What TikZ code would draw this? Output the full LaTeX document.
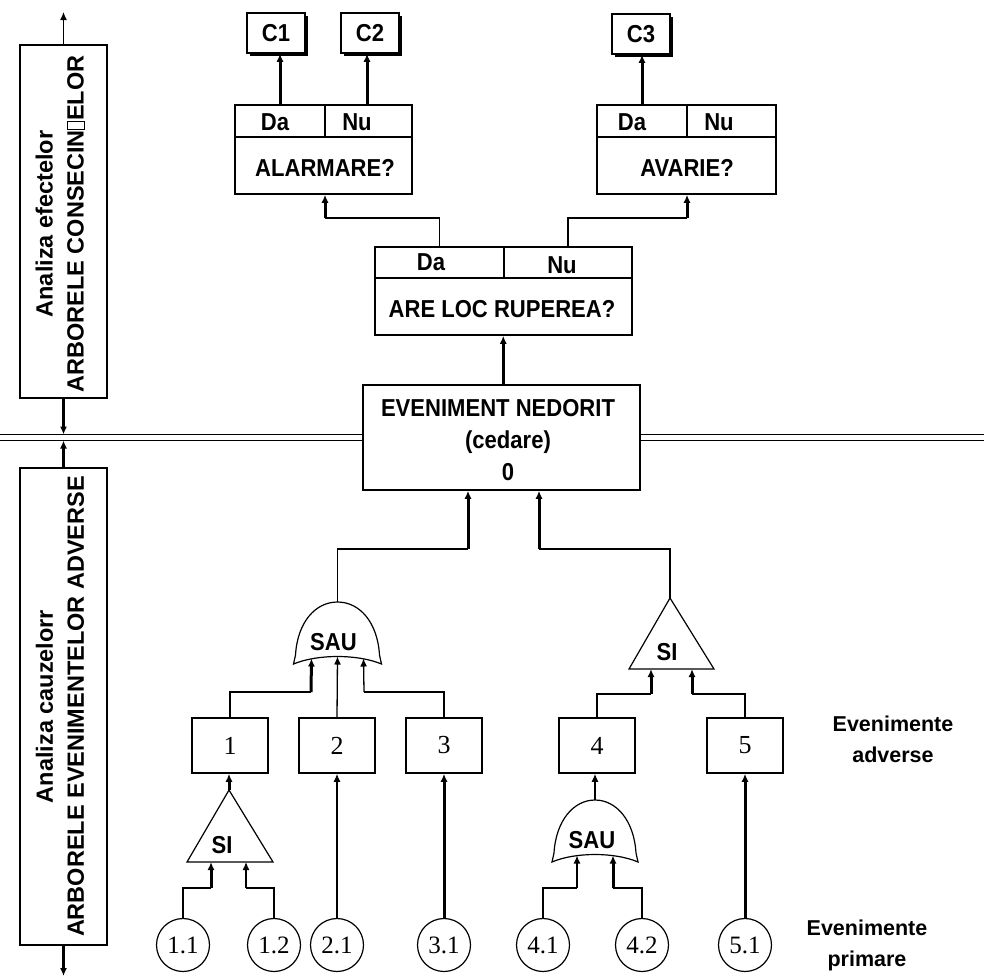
\documentclass[tikz,border=0pt]{standalone}
\usepackage{fontspec}
\setmainfont{Liberation Sans}
\newfontfamily\condfont{Liberation Sans}[FakeStretch=0.9]
\newfontfamily\numfont{Liberation Serif}
\usetikzlibrary{arrows.meta,shadows}
% empty glyph box printed in place of the missing letter
\newcommand\tofubox{{\setlength\fboxsep{0pt}\setlength\fboxrule{0.7pt}\fbox{\rule{0pt}{16pt}\hspace{8pt}}}}
\begin{document}
\begin{tikzpicture}[x=1pt,y=-1pt,
  txt/.style={font=\condfont\bfseries\fontsize{24.5}{28}\selectfont, inner sep=0pt},
  note/.style={font=\bfseries\fontsize{21.5}{31}\selectfont, inner sep=0pt, align=center},
  side/.style={font=\bfseries\fontsize{23.5}{31}\selectfont, inner sep=0pt, rotate=90, align=center},
  frame/.style={draw, line width=1.5pt, fill=white, inner sep=0pt},
  cons/.style={frame, minimum width=58pt, minimum height=40pt,
    font=\condfont\bfseries\fontsize{24.5}{28}\selectfont,
    drop shadow={shadow xshift=2.5pt, shadow yshift=-2.5pt, fill=black, opacity=1}},
  evbox/.style={frame, minimum width=76pt, minimum height=55pt, font=\numfont\fontsize{26}{26}\selectfont},
  prim/.style={draw, circle, line width=1.2pt, minimum size=53pt, inner sep=0pt, font=\numfont\fontsize{25}{25}\selectfont},
  gate/.style={draw, line width=1.2pt, fill=white},
  wire/.style={line width=1.3pt},
  bold/.style={line width=3pt},
  tip/.style={-{Latex[length=8pt,width=7pt]}},
  sep/.style={double, double distance=4.5pt, line width=1.2pt},
]
\useasboundingbox (0,0) rectangle (984,978);

% ---------- side panels ----------
\node[frame, minimum width=87pt, minimum height=353pt] (effbox) at (63.5,221.5) {};
\node[side] (efftxt) at (60,224) {Analiza efectelor\\ARBORELE CONSECIN\tofubox ELOR};
\node[frame, minimum width=87pt, minimum height=477pt] (causbox) at (63.5,706.5) {};
\node[side] (caustxt) at (60,706.5) {Analiza cauzelorr\\ARBORELE EVENIMENTELOR ADVERSE};
\coordinate (topend) at (63.5,12);
\coordinate (botend) at (63.5,976);

% ---------- undesired event and separator ----------
\node[frame, minimum width=277pt, minimum height=105pt] (evt) at (501.5,437.5) {};
\node[txt] (evt1) at (498,408) {EVENIMENT NEDORIT};
\node[txt] (evt2) at (508,442) {(cedare)};
\node[txt] (evt3) at (508,472) {0};
\coordinate (sepL) at (0,437.5);
\coordinate (sepR) at (984,437.5);
\coordinate (sepU) at (63.5,434.5);
\coordinate (sepD) at (63.5,440.5);
\draw[sep] (sepL) -- (evt.west);
\draw[sep] (evt.east) -- (sepR);

% ---------- decision: ARE LOC RUPEREA? ----------
\node[frame, minimum width=129pt, minimum height=31pt] (areda) at (439.5,262.5) {};
\node[frame, minimum width=128pt, minimum height=31pt] (arenu) at (568,262.5) {};
\node[frame, minimum width=257pt, minimum height=57pt] (areq) at (503.5,306.5) {};
\node[txt] (aredat) at (431,262) {Da};
\node[txt] (arenut) at (562,265) {Nu};
\node[txt] (areqt) at (502,309) {ARE LOC RUPEREA?};

% ---------- decision: ALARMARE? ----------
\node[frame, minimum width=90pt, minimum height=32pt] (alda) at (280,121) {};
\node[frame, minimum width=87pt, minimum height=32pt] (alnu) at (368.5,121) {};
\node[frame, minimum width=177pt, minimum height=57pt] (alq) at (323.5,165.5) {};
\node[txt] (aldat) at (275,122) {Da};
\node[txt] (alnut) at (357,122) {Nu};
\node[txt] (alqt) at (325,168) {ALARMARE?};

% ---------- decision: AVARIE? ----------
\node[frame, minimum width=90pt, minimum height=32pt] (avda) at (642,121) {};
\node[frame, minimum width=89pt, minimum height=32pt] (avnu) at (731.5,121) {};
\node[frame, minimum width=179pt, minimum height=57pt] (avq) at (686.5,165.5) {};
\node[txt] (avdat) at (632,122) {Da};
\node[txt] (avnut) at (719,122) {Nu};
\node[txt] (avqt) at (687,168) {AVARIE?};

% ---------- consequences ----------
\node[cons] (c1) at (276,33) {C1};
\node[cons] (c2) at (370,33) {C2};
\node[cons] (c3) at (641,34) {C3};

% ---------- adverse events ----------
\node[evbox] (e1) at (230,745.5) {1};
\node[evbox] (e2) at (337,745.5) {2};
\node[evbox] (e3) at (444,745.5) {3};
\node[evbox] (e4) at (597,745.5) {4};
\node[evbox] (e5) at (745,745.5) {5};

% ---------- primary events ----------
\node[prim] (p11) at (183,945) {1.1};
\node[prim] (p12) at (274,945) {1.2};
\node[prim] (p21) at (337,945) {2.1};
\node[prim] (p31) at (444,945) {3.1};
\node[prim] (p41) at (543,945) {4.1};
\node[prim] (p42) at (642,945) {4.2};
\node[prim] (p51) at (745,945) {5.1};

% ---------- side notes ----------
\node[note] (adv) at (893,739) {Evenimente\\adverse};
\node[note] (prm) at (867,945) {Evenimente\\primare};

% ---------- gates ----------
% OR gate above events 1, 2, 3
\begin{scope}[shift={(337.5,664)}]
  \draw[gate] (-44,0) -- (-42,-9) .. controls (-40,-42) and (-22,-62) .. (0,-62)
     .. controls (22,-62) and (40,-42) .. (42,-9) -- (44,0)
     .. controls (20,-10) and (-20,-10) .. (-44,0) -- cycle;
  \coordinate (gAout) at (0,-62);
  \coordinate (gAin1) at (-26,-5.5);
  \coordinate (gAin2) at (0,-7.5);
  \coordinate (gAin3) at (26,-5.5);
  \node[txt] (gAlbl) at (-4,-22) {SAU};
\end{scope}
% OR gate below event 4
\begin{scope}[shift={(595,862)}]
  \draw[gate] (-43,0) -- (-41,-9) .. controls (-39,-42) and (-21,-62) .. (0,-62)
     .. controls (21,-62) and (39,-42) .. (41,-9) -- (43,0)
     .. controls (20,-10) and (-20,-10) .. (-43,0) -- cycle;
  \coordinate (gBout) at (0,-62);
  \coordinate (gBin1) at (-18,-6.5);
  \coordinate (gBin2) at (18,-6.5);
  \node[txt] (gBlbl) at (-3,-22) {SAU};
\end{scope}
% AND gate above events 4, 5
\begin{scope}[shift={(671.5,669)}]
  \draw[gate] (-42.5,0) -- (-1.5,-71) -- (42.5,0) -- cycle;
  \coordinate (gCout) at (-1.5,-71);
  \coordinate (gCin1) at (-20.5,0);
  \coordinate (gCin2) at (20.5,0);
  \node[txt] (gClbl) at (-4.5,-17) {SI};
\end{scope}
% AND gate below event 1
\begin{scope}[shift={(230,862)}]
  \draw[gate] (-43,0) -- (-1,-72) -- (43,0) -- cycle;
  \coordinate (gDout) at (-1,-72);
  \coordinate (gDin1) at (-19,0);
  \coordinate (gDin2) at (16,0);
  \node[txt] (gDlbl) at (-8,-17) {SI};
\end{scope}

% ---------- connectors: side panels ----------
\draw[wire,tip] (effbox.north) -- (topend);
\draw[bold,tip] (effbox.south) -- (sepU);
\draw[bold,tip] (causbox.north) -- (sepD);
\draw[bold,tip] (causbox.south) -- (botend);

% ---------- connectors: consequence tree ----------
\draw[bold,tip] (evt.north -| arenu.south west) -- (areq.south -| arenu.south west);
\coordinate (kAl) at (325,218);
\coordinate (kAv) at (687,218);
\draw[wire] (areda.north) |- (kAl);
\draw[bold,tip] (kAl) -- (kAl |- alq.south);
\draw[wire] (arenu.north) |- (kAv);
\draw[bold,tip] (kAv) -- (kAv |- avq.south);
\draw[bold,tip] (alda.north) -- (alda.north |- c1.south);
\draw[bold,tip] (alnu.north -| 367,0) -- (c2.south -| 367,0);
\draw[bold,tip] (avda.north) -- (avda.north |- c3.south);

% ---------- connectors: fault tree ----------
\coordinate (kL) at (468,549);
\coordinate (kR) at (539,549);
\draw[wire] (gAout) |- (kL);
\draw[bold,tip] (kL) -- (kL |- evt.south);
\draw[wire] (gCout) |- (kR);
\draw[bold,tip] (kR) -- (kR |- evt.south);

\coordinate (k1) at (311,692);
\coordinate (k3) at (364,692);
\draw[wire] (e1.north) |- (k1);
\draw[bold,tip] (k1) -- (gAin1);
\draw[wire,tip] (e2.north) -- (gAin2);
\draw[wire] (e3.north) |- (k3);
\draw[wire,tip] (k3) -- (gAin3);

\coordinate (k4) at (651,694);
\coordinate (k5) at (692,694);
\draw[wire] (e4.north) |- (k4);
\draw[bold,tip] (k4) -- (gCin1);
\draw[wire] (e5.north) |- (k5);
\draw[bold,tip] (k5) -- (gCin2);

\draw[bold,tip] (gDout) -- (gDout |- e1.south);
\draw[wire,tip] (p21.north) -- (e2.south);
\draw[bold,tip] (p31.north) -- (e3.south);
\draw[wire,tip] (gBout) -- (gBout |- e4.south);
\draw[bold,tip] (p51.north) -- (e5.south);

\coordinate (k11) at (211,888);
\coordinate (k12) at (246,888);
\draw[wire] (p11.north) |- (k11);
\draw[bold,tip] (k11) -- (gDin1);
\draw[wire] (p12.north) |- (k12);
\draw[wire,tip] (k12) -- (gDin2);

\coordinate (k41) at (577,888);
\coordinate (k42) at (613,888);
\draw[wire] (p41.north) |- (k41);
\draw[wire,tip] (k41) -- (gBin1);
\draw[wire] (p42.north) |- (k42);
\draw[bold,tip] (k42) -- (gBin2);
\end{tikzpicture}
\end{document}
